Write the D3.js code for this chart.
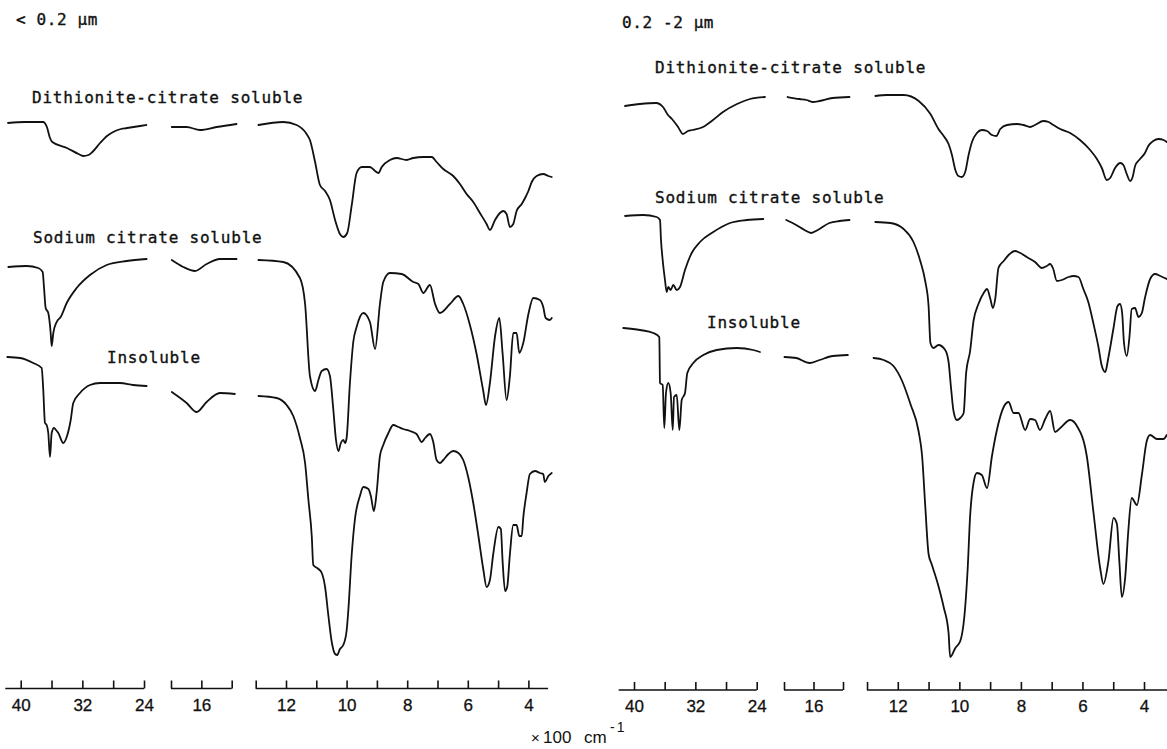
<!DOCTYPE html>
<html><head><meta charset="utf-8">
<script src="https://cdn.jsdelivr.net/npm/d3@7"></script>
<style>body{margin:0;background:#fff;} svg{display:block;}</style>
</head><body>
<svg id="chart" width="1167" height="749"></svg>
<script>
// ---------------- DATA ----------------
// x: wavenumber (x100 cm-1); y: relative transmittance (offset-stacked, arbitrary units)
const panelTitles = ["< 0.2 \u00b5m", "0.2 -2 \u00b5m"];
const traceNames = ["Dithionite-citrate soluble", "Sodium citrate soluble", "Insoluble"];
const segmentDomains = [[40, 24], [18, 14], [12, 4]];
const axisExtents = [[42, 24], [18, 14], [13, 3.35]];
const axisExtentsRight = [[42, 24], [18, 14], [13, 3.0]];
const tickValues = [[40, 36, 32, 28, 24], [18, 16, 14], [13, 12, 11, 10, 9, 8, 7, 6, 5, 4]];
const tickLabels = [40, 32, 24, 16, 12, 10, 8, 6, 4];
const unitParts = ["\u00d7", "100", "cm", "-1"];

// < 0.2 um fraction
const fineDithionite = [
 [[41.65,567],[39.5,568],[37.1,568],[36.6,563],[36.2,552],[35.9,548],[34.0,542],[32.5,536],[31.9,534],[31.2,535],[30.7,538],[29.7,547],[28.8,554],[28.0,558],[27.0,561],[26.2,562],[24.5,564],[23.7,565]],
 [[17.95,563],[16.97,563],[16.09,560],[14.99,563],[13.68,566]],
 [[12.91,565],[12.09,568],[11.65,565],[11.32,556],[11.21,550],[11.04,528],[10.88,505],[10.71,499],[10.55,490],[10.38,470],[10.22,456],[10.11,453],[9.98,457],[9.83,485],[9.67,517],[9.50,523],[9.23,523],[9.06,519],[8.95,517],[8.84,523],[8.57,530],[8.35,532],[8.02,530],[7.80,532],[7.47,533],[7.19,533],[7.03,528],[6.81,521],[6.48,514],[6.26,506],[6.04,496],[5.82,488],[5.60,477],[5.38,466],[5.27,460],[5.10,470],[4.94,477],[4.83,479],[4.72,476],[4.61,463],[4.50,466],[4.39,479],[4.22,486],[4.11,492],[4.00,499],[3.89,508],[3.73,514],[3.51,516],[3.34,514],[3.23,513]]
];
const fineSodium = [
 [[41.61,423],[39.22,424],[37.72,422],[37.15,418],[36.98,403],[36.76,382],[36.42,377],[36.11,357],[35.98,344],[35.77,357],[35.33,368],[34.81,373],[34.03,387],[32.74,402],[31.01,415],[28.85,425],[26.25,429],[23.66,431]],
 [[17.95,430],[17.19,423],[16.42,419],[15.65,426],[14.78,431],[13.68,431]],
 [[12.91,430],[12.09,428],[11.54,412],[11.37,386],[11.21,314],[11.04,299],[10.93,310],[10.82,319],[10.66,321],[10.55,314],[10.44,281],[10.35,250],[10.27,239],[10.19,247],[10.11,250],[10.05,247],[10.00,252],[9.89,307],[9.78,348],[9.67,363],[9.45,377],[9.23,368],[9.06,341],[8.90,386],[8.79,408],[8.57,417],[8.18,416],[7.80,408],[7.63,406],[7.47,397],[7.25,405],[7.08,386],[6.92,377],[6.59,386],[6.31,394],[6.15,386],[5.93,365],[5.71,336],[5.49,299],[5.40,285],[5.27,307],[5.10,354],[4.96,372],[4.85,336],[4.72,290],[4.61,314],[4.50,357],[4.39,357],[4.30,337],[4.17,347],[4.00,376],[3.84,392],[3.62,390],[3.51,383],[3.43,372],[3.29,370],[3.23,372]]
];
const fineInsoluble = [
 [[41.74,333],[40.09,332],[38.37,327],[37.28,322],[37.07,300],[36.85,267],[36.63,265],[36.42,257],[36.20,233],[35.98,257],[35.68,262],[35.42,260],[35.12,257],[34.47,247],[34.03,253],[33.51,270],[33.18,287],[32.31,297],[31.01,305],[29.71,307],[27.12,307],[25.40,305],[23.66,304]],
 [[17.95,298],[16.97,287],[16.31,278],[15.65,288],[14.78,297],[13.79,296]],
 [[12.91,294],[12.31,292],[11.98,285],[11.76,274],[11.54,252],[11.37,227],[11.26,190],[11.15,154],[11.10,125],[10.93,121],[10.82,117],[10.71,103],[10.60,74],[10.49,48],[10.38,36],[10.31,35],[10.22,41],[10.11,45],[10.00,59],[9.94,81],[9.83,136],[9.72,172],[9.56,194],[9.45,203],[9.28,201],[9.20,194],[9.10,179],[9.01,197],[8.90,234],[8.79,245],[8.62,257],[8.46,265],[8.29,263],[8.13,261],[7.91,259],[7.69,256],[7.52,248],[7.41,252],[7.25,256],[7.14,248],[7.03,230],[6.92,227],[6.81,230],[6.64,236],[6.48,239],[6.31,237],[6.15,230],[5.98,212],[5.82,187],[5.65,154],[5.49,121],[5.38,103],[5.27,110],[5.16,136],[4.99,163],[4.91,161],[4.85,128],[4.77,99],[4.70,103],[4.61,136],[4.50,165],[4.39,165],[4.30,154],[4.22,154],[4.17,172],[4.06,197],[3.95,216],[3.78,219],[3.62,217],[3.51,216],[3.46,208],[3.34,214],[3.23,217]]
];

// 0.2 - 2 um fraction
const coarseDithionite = [
 [[41.17,584],[39.22,586],[37.13,587],[36.22,583],[35.57,575],[35.05,571],[34.26,563],[33.61,556],[32.96,559],[32.44,560],[31.00,563],[29.70,570],[28.40,578],[26.57,586],[24.88,591],[22.92,593]],
 [[17.76,593],[16.95,591],[16.47,590],[16.07,588],[15.59,589],[14.71,592],[13.56,593]],
 [[12.73,594],[12.35,595],[11.81,595],[11.32,589],[10.94,576],[10.68,561],[10.51,554],[10.35,546],[10.24,535],[10.13,520],[10.03,514],[9.92,513],[9.81,518],[9.70,535],[9.59,548],[9.43,557],[9.27,560],[9.10,559],[8.94,555],[8.80,554],[8.67,561],[8.45,565],[8.13,566],[7.92,565],[7.70,563],[7.54,565],[7.27,569],[7.10,568],[6.94,565],[6.72,561],[6.40,557],[6.08,550],[5.75,540],[5.53,531],[5.37,522],[5.21,510],[5.10,512],[4.94,522],[4.77,527],[4.67,525],[4.56,516],[4.45,509],[4.36,514],[4.29,524],[4.13,531],[3.97,537],[3.86,544],[3.70,549],[3.53,551],[3.36,550],[3.26,548]]
];
const coarseSodium = [
 [[41.17,474],[38.79,475],[37.04,473],[36.61,470],[36.48,450],[36.26,430],[35.96,410],[35.74,398],[35.53,403],[35.22,400],[34.88,405],[34.43,400],[34.00,403],[33.35,420],[32.48,437],[31.40,448],[29.66,458],[27.48,467],[25.31,470],[23.14,471]],
 [[17.85,470],[17.17,465],[16.61,460],[16.16,457],[15.71,460],[14.92,467],[14.24,469],[13.56,470]],
 [[12.73,468],[12.24,467],[11.81,461],[11.49,448],[11.27,429],[11.11,409],[11.00,384],[10.94,347],[10.84,342],[10.68,345],[10.46,340],[10.35,328],[10.27,302],[10.19,279],[10.08,270],[9.97,272],[9.86,277],[9.78,317],[9.65,339],[9.54,369],[9.38,386],[9.21,397],[9.10,401],[9.00,392],[8.91,382],[8.83,392],[8.73,422],[8.56,429],[8.40,435],[8.19,439],[8.02,437],[7.81,433],[7.54,428],[7.32,422],[7.16,424],[7.05,426],[6.96,422],[6.83,409],[6.67,410],[6.45,413],[6.29,414],[6.13,413],[5.97,401],[5.81,388],[5.64,366],[5.48,343],[5.37,324],[5.26,318],[5.16,332],[4.99,362],[4.86,384],[4.78,386],[4.71,377],[4.65,347],[4.56,334],[4.47,354],[4.40,381],[4.29,382],[4.18,373],[4.07,377],[3.97,392],[3.80,411],[3.64,416],[3.47,414],[3.26,411]]
];
const coarseInsoluble = [
 [[41.40,362],[39.22,360],[37.48,357],[36.70,353],[36.61,307],[36.26,305],[36.05,262],[35.83,297],[35.53,307],[35.22,297],[34.95,260],[34.78,293],[34.43,295],[34.09,260],[33.78,290],[33.35,297],[33.05,317],[32.27,327],[30.96,335],[29.22,340],[26.61,342],[24.45,340],[23.57,338]],
 [[17.97,333],[17.17,332],[16.27,327],[15.59,330],[14.69,334],[13.67,335]],
 [[12.79,332],[12.46,330],[12.14,324],[11.86,309],[11.59,286],[11.32,258],[11.21,234],[11.11,185],[11.00,136],[10.89,125],[10.68,104],[10.51,83],[10.35,57],[10.30,33],[10.13,42],[9.97,49],[9.81,83],[9.73,121],[9.65,174],[9.54,207],[9.43,217],[9.27,215],[9.10,202],[8.94,234],[8.78,260],[8.56,283],[8.40,288],[8.24,277],[8.08,277],[7.86,260],[7.70,271],[7.54,270],[7.38,260],[7.21,271],[7.05,279],[6.89,258],[6.72,262],[6.40,270],[6.18,264],[5.86,234],[5.64,177],[5.42,121],[5.32,106],[5.16,128],[4.99,172],[4.88,166],[4.80,128],[4.72,93],[4.61,113],[4.51,159],[4.40,192],[4.23,185],[4.07,215],[3.91,249],[3.80,255],[3.58,251],[3.37,251],[3.26,255]]
];

// ---------------- DRAWING ----------------
const W = 1167, H = 749;
const svg = d3.select("#chart");
svg.append("rect").attr("width", W).attr("height", H).attr("fill", "#fff");

const y = d3.scaleLinear().domain([0, 620]).range([690, 70]);

const panels = [
  { title: panelTitles[0], titlePos: [16, 25], axisY: 688.5,
    ranges: [[20.7, 144], [171, 231.7], [286, 528.4]], extents: axisExtents,
    series: [fineDithionite, fineSodium, fineInsoluble],
    labelPos: [[32, 103], [33, 243], [107, 363]] },
  { title: panelTitles[1], titlePos: [622, 28], axisY: 690,
    ranges: [[634, 756.7], [784, 843], [897.8, 1144]], extents: axisExtentsRight,
    series: [coarseDithionite, coarseSodium, coarseInsoluble],
    labelPos: [[655, 73], [655, 203], [707, 328]] }
];

const monoFont = "'DejaVu Sans Mono', 'Liberation Mono', monospace";
const sansFont = "'Liberation Sans', Arial, sans-serif";
const ink = "#111";

panels.forEach(p => {
  const xs = segmentDomains.map((d, i) => d3.scaleLinear().domain(d).range(p.ranges[i]));

  // title
  svg.append("text").attr("x", p.titlePos[0]).attr("y", p.titlePos[1])
    .attr("font-family", monoFont).attr("font-size", 16).attr("letter-spacing", 0.6)
    .attr("fill", ink).attr("stroke", ink).attr("stroke-width", 0.35).text(p.title);

  // trace labels
  traceNames.forEach((name, i) => {
    svg.append("text").attr("x", p.labelPos[i][0]).attr("y", p.labelPos[i][1])
      .attr("font-family", monoFont).attr("font-size", 16).attr("letter-spacing", 0.8)
      .attr("fill", ink).attr("stroke", ink).attr("stroke-width", 0.35).text(name);
  });

  // traces
  p.series.forEach(trace => {
    trace.forEach((seg, si) => {
      const line = d3.line()
        .x(d => xs[si](d[0]))
        .y(d => y(d[1]))
        .curve(d3.curveMonotoneX);
      svg.append("path").datum(seg).attr("d", line)
        .attr("fill", "none").attr("stroke", ink).attr("stroke-width", 1.8)
        .attr("stroke-linejoin", "round").attr("stroke-linecap", "round");
    });
  });

  // broken axis
  xs.forEach((sc, si) => {
    const g = svg.append("g").attr("transform", `translate(0,${p.axisY})`);
    const ax = d3.axisBottom(sc).tickValues(tickValues[si])
      .tickSizeInner(-8).tickSizeOuter(0).tickPadding(10)
      .tickFormat(v => tickLabels.includes(v) ? String(v) : "");
    g.call(ax);
    g.select(".domain").remove();
    g.selectAll(".tick line").attr("stroke", ink).attr("stroke-width", 1.6);
    g.selectAll(".tick text").attr("font-family", sansFont).attr("font-size", 17)
      .attr("fill", ink).attr("stroke", ink).attr("stroke-width", 0.3);
    const ext = p.extents[si];
    g.append("line").attr("x1", sc(ext[0])).attr("x2", sc(ext[1]))
      .attr("y1", 0).attr("y2", 0).attr("stroke", ink).attr("stroke-width", 1.6);
  });
});

// unit label: × 100 cm^-1
const unit = svg.append("text").attr("y", 743)
  .attr("font-family", sansFont).attr("font-size", 17).attr("fill", ink);
unit.append("tspan").attr("x", 531).attr("font-size", 15).text(unitParts[0]);
unit.append("tspan").attr("x", 543).text(unitParts[1]);
unit.append("tspan").attr("x", 584).text(unitParts[2]);
unit.append("tspan").attr("x", 610).attr("dy", -11).attr("font-size", 14)
  .attr("letter-spacing", 2).text(unitParts[3]);
</script>
</body></html>
